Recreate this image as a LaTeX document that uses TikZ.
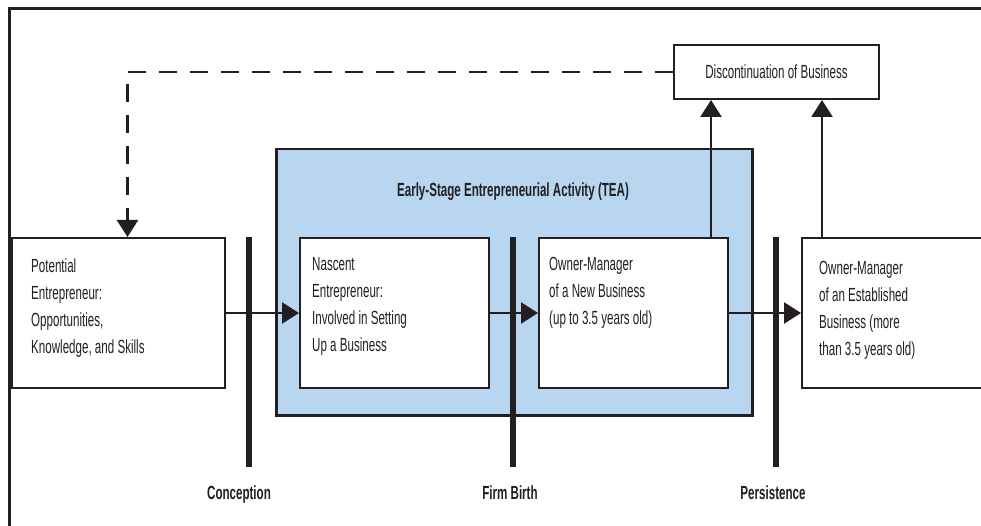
\documentclass[tikz,border=0pt]{standalone}
\usepackage{fontspec}
\setmainfont{Liberation Sans}[FakeStretch=0.61]
\usetikzlibrary{arrows.meta}
\definecolor{teablue}{RGB}{184,214,240}
\definecolor{ink}{RGB}{35,31,32}

\begin{document}
\begin{tikzpicture}[x=1pt, y=-1pt,
  box/.style={draw=ink, line width=2pt, fill=white, anchor=north west, inner sep=0pt},
  txt/.style={anchor=north west, align=left, inner sep=0pt, text=ink, font=\fontsize{19}{27}\selectfont},
  lbl/.style={anchor=base, text=ink, font=\bfseries\fontsize{19}{23}\selectfont},
  arr/.style={draw=ink, line width=2.5pt, -{Triangle[length=17pt, width=21pt]}},
  bar/.style={draw=ink, line width=6pt},
  ]

\useasboundingbox (0,0) rectangle (981,526);

% Outer frame, open to the right and bottom
\draw[ink, line width=3pt] (9,526) -- (9,9) -- (981,9);

% Shade the TEA region
\node[box, fill=teablue, line width=2.5pt, minimum width=476pt, minimum height=266pt] (tea) at (275,148) {};
\node[lbl] (teatitle) at (513,197) {Early-Stage Entrepreneurial Activity (TEA)};

% Stage boxes
\node[box, minimum width=213pt, minimum height=150pt] (pot) at (11,237) {};
\node[txt] (pottxt) at (31,259) {Potential\\Entrepreneur:\\Opportunities,\\Knowledge, and Skills};

\node[box, minimum width=189pt, minimum height=150pt] (nasc) at (299,237) {};
\node[txt] (nasctxt) at (312,257) {Nascent\\Entrepreneur:\\Involved in Setting\\Up a Business};

\node[box, minimum width=189pt, minimum height=150pt] (newbiz) at (538,237) {};
\node[txt] (newbiztxt) at (549,257) {Owner-Manager\\of a New Business\\(up to 3.5 years old)};

\node[box, minimum width=200pt, minimum height=150pt] (estbiz) at (801,237) {};
\node[txt] (estbiztxt) at (819,261) {Owner-Manager\\of an Established\\Business (more\\than 3.5 years old)};

% Exit box
\node[box, anchor=center, minimum width=205pt, minimum height=54pt, text=ink, font=\fontsize{19}{27}\selectfont] (disc) at (776.5,72) {Discontinuation of Business};

% Flow between stages
\draw[arr] (pot.east) -- (nasc.west);
\draw[arr] (nasc.east) -- (newbiz.west);
\draw[arr] (newbiz.east) -- (estbiz.west);

% Phase bars and their labels
\foreach \bx in {249, 513, 776}
  \draw[bar] (\bx,237) -- (\bx,467);
\node[lbl] (conclbl) at (239,499) {Conception};
\node[lbl] (birthlbl) at (510,499) {Firm Birth};
\node[lbl] (perslbl) at (773,499) {Persistence};

% Arrows up to discontinuation
\coordinate (upnew) at ([xshift=-18pt]newbiz.north east);
\coordinate (upest) at ([xshift=21pt]estbiz.north west);
\draw[arr] (upnew) -- (upnew |- disc.south);
\draw[arr] (upest) -- (upest |- disc.south);

% Dashed loop back to potential entrepreneur
\coordinate (backin) at ([xshift=9pt]pot.north);
\draw[arr, dash pattern=on 18pt off 13pt] (disc.west) -| (backin);

\end{tikzpicture}
\end{document}
